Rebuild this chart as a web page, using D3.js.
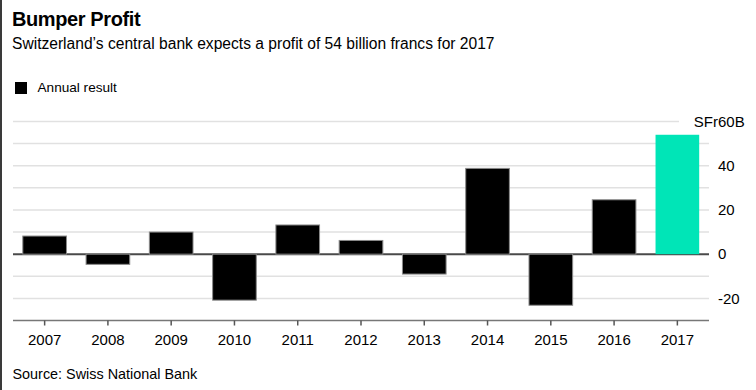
<!DOCTYPE html>
<html>
<head>
<meta charset="utf-8">
<script src="https://cdn.jsdelivr.net/npm/d3@7"></script>
<style>
  html, body { margin: 0; padding: 0; background: #fff; }
  svg { display: block; font-family: "Liberation Sans", Arial, sans-serif; }
</style>
</head>
<body>
<svg id="chart" width="756" height="390"></svg>
<script>
const years = ["2007","2008","2009","2010","2011","2012","2013","2014","2015","2016","2017"];
const results = [8.2, -4.6, 10.0, -20.8, 13.2, 6.2, -9.0, 38.8, -23.1, 24.6, 54.0];
const highlightYear = "2017";
const gridValues = [-20, -10, 0, 10, 20, 30, 40, 50, 60];
const tickLabels = [-20, 0, 20, 40, 60];
const titleText = "Bumper Profit";
const subtitleText = "Switzerland\u2019s central bank expects a profit of 54 billion francs for 2017";
const legendText = "Annual result";
const sourceText = "Source: Swiss National Bank";

const svg = d3.select("#chart");
const W = 756, H = 390;
const plotLeft = 13, plotRight = 709;

svg.append("rect").attr("x", 0).attr("y", 0).attr("width", W).attr("height", H).attr("fill", "#fff");
svg.append("rect").attr("x", 0).attr("y", 0).attr("width", 2).attr("height", H).attr("fill", "#3a3a3a");

const x = d3.scaleBand().domain(years).range([plotLeft, plotRight]).paddingInner(0.31).paddingOuter(0.155);
const y = d3.scaleLinear().domain([-30, 60]).range([320.5, 121.5]);

// Title, subtitle
svg.append("text").attr("x", 12).attr("y", 25.5).attr("font-size", 20).attr("font-weight", "bold")
  .attr("letter-spacing", "-0.4").attr("fill", "#000").text(titleText);
svg.append("text").attr("x", 12).attr("y", 49).attr("font-size", 15.6).attr("fill", "#000").text(subtitleText);

// Legend
svg.append("rect").attr("x", 15).attr("y", 82).attr("width", 12).attr("height", 12).attr("fill", "#000");
svg.append("text").attr("x", 37.5).attr("y", 92.3).attr("font-size", 13.6).attr("fill", "#000").text(legendText);

// Gridlines
svg.append("g").selectAll("line").data(gridValues.filter(v => v !== 0)).join("line")
  .attr("x1", plotLeft).attr("x2", d => d === 60 ? 679 : plotRight)
  .attr("y1", d => y(d)).attr("y2", d => y(d))
  .attr("stroke", "#e1e1e1").attr("stroke-width", 1.5);

// Y axis labels
const yl = svg.append("g");
tickLabels.forEach(v => {
  if (v === 60) {
    const t = yl.append("text").attr("x", 718).attr("y", y(v)).attr("dy", "0.35em")
      .attr("font-size", 15).attr("fill", "#000");
    t.append("tspan").attr("class", "pre").text("SFr");
    t.append("tspan").text(v + "B");
    const w = t.select(".pre").node().getComputedTextLength();
    t.attr("x", 718 - w);
  } else {
    yl.append("text").attr("x", 718).attr("y", y(v)).attr("dy", "0.35em")
      .attr("font-size", 15).attr("fill", "#000").text(v);
  }
});

// Zero line
svg.append("line").attr("x1", plotLeft).attr("x2", plotRight).attr("y1", y(0)).attr("y2", y(0))
  .attr("stroke", "#4a4a4a").attr("stroke-width", 2);

// Bars
svg.append("g").selectAll("rect").data(years).join("rect")
  .attr("x", d => x(d))
  .attr("width", x.bandwidth())
  .attr("y", (d, i) => y(Math.max(0, results[i])))
  .attr("height", (d, i) => Math.abs(y(results[i]) - y(0)))
  .attr("fill", d => d === highlightYear ? "#00e5b7" : "#000")
  .attr("stroke", d => d === highlightYear ? "none" : "#8a8a8a")
  .attr("stroke-width", 1);

// Bottom axis
const xAxis = d3.axisBottom(x).tickSize(5).tickPadding(6);
const gx = svg.append("g").attr("transform", `translate(0,${y(-30)})`).call(xAxis);
gx.select(".domain").attr("stroke", "#777").attr("stroke-width", 1.5).attr("d", `M${plotLeft},0H${plotRight}`);
gx.selectAll(".tick line").attr("stroke", "#555").attr("stroke-width", 1.5);
gx.selectAll(".tick text").attr("font-size", 15).attr("fill", "#000")
  .attr("font-family", "Liberation Sans, Arial, sans-serif").attr("dy", "0.71em").attr("y", 13.5);

// Source
svg.append("text").attr("x", 12.5).attr("y", 379).attr("font-size", 14.4).attr("fill", "#000").text(sourceText);
</script>
</body>
</html>
